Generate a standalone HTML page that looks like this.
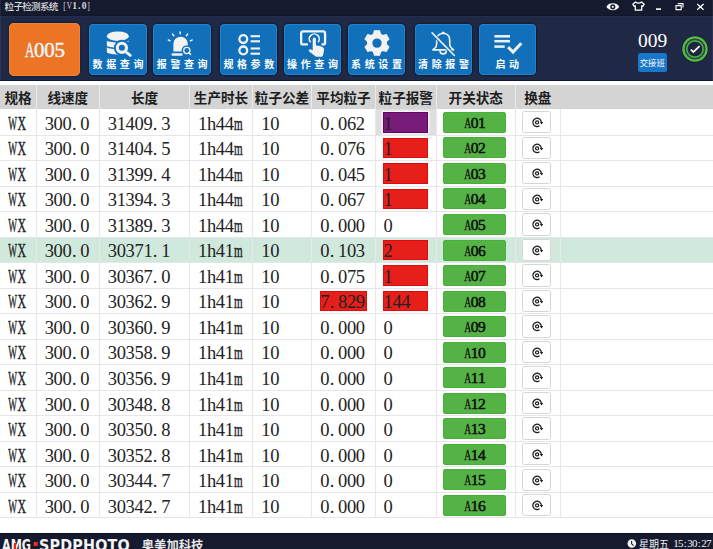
<!DOCTYPE html><html><head><meta charset="utf-8"><title>粒子检测系统</title><style>
*{margin:0;padding:0;box-sizing:border-box}
html,body{width:713px;height:549px;overflow:hidden;background:#fff}
body{position:relative;font-family:"Liberation Serif","Noto Serif CJK SC",serif;color:#1a1a1a}
.abs{position:absolute}
#title{left:0;top:0;width:713px;height:16px;background:#161a2f;border-bottom:1px solid #12162a}
#ttl{left:4.6px;top:-0.1px;font:500 9.6px/13px "Noto Sans CJK SC",sans-serif;color:#dcdcdc;white-space:nowrap;letter-spacing:-.75px}
#ttl span{font:bold 9.5px/13px "Liberation Serif",serif;letter-spacing:0;margin-left:3.6px;position:relative;top:-1px}
#ttl span i{display:inline-flex;justify-content:center;width:4.75px;font-style:normal}
#tool{left:0;top:16px;width:713px;height:65px;background:#1f2946;border-top:1px solid #232d4b;border-bottom:1px solid #0e1733}
#a005{left:8.9px;top:22.9px;width:71px;height:52.7px;background:#ec7424;border-radius:5px;box-shadow:0 0 0 1.4px #0a2550,inset 0 0 0 1px #f88020;color:#e8f6fa;font:21px/54.5px "Liberation Serif",serif;text-align:center;-webkit-text-stroke:.45px #e8f6fa}
#a005 i{display:inline-flex;justify-content:center;width:10.2px;font-style:normal}
.btn{top:23.6px;width:57.5px;height:51px;background:#1170b9;border-radius:4.5px;box-shadow:0 0 0 1.3px #1b1b2e,inset 0 0 0 1px #1a84d6}
.btn svg{position:absolute;left:0;top:0}
.bl{position:absolute;left:0;top:34px;width:57px;text-align:center;font:bold 10px/12px "Noto Sans CJK SC",sans-serif;color:#fff;letter-spacing:3.6px;text-indent:3.6px;white-space:nowrap}
#n009{left:636px;top:29.5px;width:33px;text-align:center;color:#fff;font:19.5px/22px "Liberation Serif",serif}
#jjb{left:637.5px;top:53px;width:29.5px;height:19px;background:#1a76c8;border-radius:2.5px;color:#fff;font:8.4px/19px "Noto Sans CJK SC",sans-serif;text-align:center;letter-spacing:-.1px}
#hdr{left:0;top:85px;width:713px;height:24px;background:#d4d4d4}
.hs{position:absolute;top:85px;width:1px;height:24px;background:#ebebeb}
.ht{position:absolute;top:85px;height:24px;font:bold 13.6px/24px "Noto Sans CJK SC",sans-serif;color:#1e1e1e;text-align:center;white-space:nowrap}
.rl{position:absolute;left:0;width:713px;height:1px;background:#e6e6ea}
.cs{position:absolute;width:1px;background:#e8e8e8}
.tx{position:absolute;font-size:18.5px;line-height:20px;white-space:nowrap;color:#222}
.tx i{display:inline-flex;justify-content:center;width:8.9px;font-style:normal}
i b{display:inline-block;font-weight:normal}
.tx i.d{justify-content:flex-start;padding-left:.4px}
.tx i b{-webkit-text-stroke:.4px #222}
.al{position:absolute;left:382.6px;width:45px;height:20.4px;border:1px solid #e00c0c;background:#e61f1a;font-size:17.5px;line-height:19px;padding-left:2px}
.al.p{background:#771d79;border-color:#660066;box-shadow:0 0 0 1.5px #f4f4f4}
.sw{position:absolute;left:443.4px;width:62.4px;height:21px;background:#55b345;border:1px solid #47b03b;border-radius:2px;text-align:center;line-height:19px;color:#111}
.sw .tx i{width:7.3px}
.hp{position:absolute;left:522.3px;width:29px;height:22.3px;border:1px solid #d6d6d6;border-radius:2.5px;background:#fff}
#tm i{display:inline-flex;justify-content:center;width:4.7px;font-style:normal}
#foot{left:0;top:533.4px;width:713px;height:16px;background:#161a2e;border-top:1px solid #0b0d1a}
</style></head><body>
<div id="title" class="abs"></div>
<div id="ttl" class="abs">粒子检测系统 <span><i><b style="transform:scaleX(0.8)">[</b></i><i><b style="transform:scaleX(0.75)">V</b></i><i>1</i><i class="d">.</i><i>0</i><i><b style="transform:scaleX(0.8)">]</b></i></span></div>
<svg class="abs" style="left:600px;top:0" width="113" height="15" viewBox="0 0 113 15">
<path d="M6.4 6.8 C8.6 2.2 17 2.2 19.2 6.8 C17 11.4 8.6 11.4 6.4 6.8Z" fill="#fff"/>
<circle cx="12.8" cy="6.8" r="2.6" fill="#151a2f"/><circle cx="12.8" cy="6.8" r="1.1" fill="#fff"/>
<path d="M35.5 2 L32.8 4.2 L34.2 6.4 L35.3 5.8 L35.3 10.2 L41.7 10.2 L41.7 5.8 L42.8 6.4 L44.2 4.2 L41.5 2 Q38.5 4.2 35.5 2Z" fill="none" stroke="#fff" stroke-width="1.3" stroke-linejoin="round"/>
<rect x="56" y="8.3" width="5" height="1.6" fill="#fff"/>
<path d="M77.8 3.6 H83 V7.6 M76 5.6 H81.2 V9.6 H76Z" fill="none" stroke="#fff" stroke-width="1.1"/>
<path d="M97.2 4 L103.6 9.8 M103.6 4 L97.2 9.8" stroke="#fff" stroke-width="1.3"/>
</svg>
<div id="tool" class="abs"></div>
<div class="abs" style="left:0;top:0;width:1px;height:81px;background:rgba(255,255,255,.06)"></div><div class="abs" style="left:711.5px;top:0;width:1.5px;height:81px;background:rgba(255,255,255,.05)"></div>
<div id="a005" class="abs"><i><b style="transform:scaleX(0.62)">A</b></i><i>0</i><i>0</i><i>5</i></div>
<div class="abs btn" style="left:89px"><svg width="57" height="51" viewBox="0 0 57 51"><ellipse cx="28.85" cy="12.2" rx="11" ry="4.8" fill="#f2f2f2"/>
<path d="M17.85 16.6 A11 1.8 0 0 0 39.85 16.6 L39.85 21.8 A11 1.8 0 0 1 17.85 21.8Z" fill="#f2f2f2"/>
<path d="M17.85 23.2 A11 1.8 0 0 0 39.85 23.2 L39.85 28 A11 2.6 0 0 1 17.85 28Z" fill="#f2f2f2"/>
<circle cx="32.9" cy="23.8" r="8" fill="#1170b9"/><rect x="35" y="17.6" width="6" height="7" fill="#1170b9"/>
<circle cx="32.9" cy="23.8" r="4.6" fill="none" stroke="#f2f2f2" stroke-width="3.1"/>
<path d="M37.4 28.4 L41.3 31.3" stroke="#f2f2f2" stroke-width="2.8" stroke-linecap="round"/></svg><div class="bl">数据查询</div></div>
<div class="abs btn" style="left:153.2px"><svg width="57" height="51" viewBox="0 0 57 51"><path d="M20.4 27.4 V19.9 A7.2 7.2 0 0 1 34.8 19.9 V27.4Z" fill="#f2f2f2"/>
<circle cx="33.8" cy="26.5" r="5.2" fill="#1170b9"/>
<rect x="18.5" y="29.3" width="11.2" height="2.4" rx="1.2" fill="#f2f2f2"/>
<circle cx="33.8" cy="26.5" r="3.1" fill="none" stroke="#f2f2f2" stroke-width="1.3"/>
<path d="M35.9 28.7 L37.6 30.4" stroke="#f2f2f2" stroke-width="1.4" stroke-linecap="round"/>
<g stroke="#f2f2f2" stroke-width="1.5" stroke-linecap="round"><path d="M27.2 7.9 V9.8"/><path d="M19.6 10.1 L20.8 11.7"/><path d="M34.6 10.1 L33.4 11.7"/><path d="M15.3 16 L17 16.7"/><path d="M39.1 16.1 L37.4 16.8"/></g></svg><div class="bl">报警查询</div></div>
<div class="abs btn" style="left:219.8px"><svg width="57" height="51" viewBox="0 0 57 51"><circle cx="23.3" cy="15.1" r="3.9" fill="none" stroke="#f2f2f2" stroke-width="2.3"/>
<circle cx="23.3" cy="26.4" r="3.9" fill="none" stroke="#f2f2f2" stroke-width="2.3"/>
<g stroke="#f2f2f2" stroke-width="2.1"><path d="M30.6 12.2 H40"/><path d="M30.6 17.3 H40"/><path d="M30.6 24.5 H40"/><path d="M30.6 29.7 H40"/></g></svg><div class="bl">规格参数</div></div>
<div class="abs btn" style="left:283.5px"><svg width="57" height="51" viewBox="0 0 57 51"><path d="M23.9 20.45 H19.2 Q17.15 20.45 17.15 18.4 V9.4 Q17.15 7.35 19.2 7.35 H39 Q41.05 7.35 41.05 9.4 V18.4 Q41.05 20.45 39 20.45 H37.5" fill="none" stroke="#f2f2f2" stroke-width="2.3"/>
<path d="M26.6 18.3 A5 5 0 1 1 34 18.3" fill="none" stroke="#f2f2f2" stroke-width="1.6"/>
<path d="M28.7 15.2 A1.6 1.6 0 0 1 31.9 15.2 L31.9 21.6 Q36 21.5 38.9 23.2 Q40.3 24.2 40 26.5 L39 31.4 Q38.6 32.7 37.3 32.7 L32.5 32.7 Q31.6 32.7 31 32.1 L25.2 27.5 Q24.2 26.5 25 25.7 Q26 24.8 27.3 25.6 L28.7 26.6 Z" fill="#f2f2f2"/></svg><div class="bl">操作查询</div></div>
<div class="abs btn" style="left:347.5px"><svg width="57" height="51" viewBox="0 0 57 51"><path d="M25.54 10.26 L26.48 6.76 L31.52 6.76 L32.46 10.26 L34.84 11.63 L38.34 10.70 L40.86 15.06 L38.30 17.63 L38.30 20.37 L40.86 22.94 L38.34 27.30 L34.84 26.37 L32.46 27.74 L31.52 31.24 L26.48 31.24 L25.54 27.74 L23.16 26.37 L19.66 27.30 L17.14 22.94 L19.70 20.37 L19.70 17.63 L17.14 15.06 L19.66 10.70 L23.16 11.63Z" fill="#f2f2f2" stroke="#f2f2f2" stroke-width="1.2" stroke-linejoin="round"/><circle cx="29" cy="19.1" r="4.7" fill="#1170b9"/></svg><div class="bl">系统设置</div></div>
<div class="abs btn" style="left:414.5px"><svg width="57" height="51" viewBox="0 0 57 51"><path d="M26.8 9.4 Q28.2 6.6 29.6 9.4" fill="#f2f2f2" stroke="#f2f2f2" stroke-width="1.2"/>
<path d="M17.9 25.9 Q18.3 24.9 19.8 24.1 Q21.7 22.9 21.7 19.5 V16.2 Q21.7 9.7 28.2 9.3 Q34.7 9.7 34.7 16.2 V19.5 Q34.7 22.9 36.6 24.1 Q38.1 24.9 38.5 25.9 Z" fill="none" stroke="#f2f2f2" stroke-width="1.6" stroke-linejoin="round"/>
<path d="M25 26.7 A3.2 3.2 0 0 0 31.4 26.7" fill="none" stroke="#f2f2f2" stroke-width="1.6"/>
<path d="M17.1 8.9 L39.4 31.5" stroke="#1170b9" stroke-width="3.6"/>
<path d="M17.1 8.9 L39.4 31.5" stroke="#f2f2f2" stroke-width="1.6" stroke-linecap="round"/></svg><div class="bl">清除报警</div></div>
<div class="abs btn" style="left:478.8px"><svg width="57" height="51" viewBox="0 0 57 51"><g stroke="#f2f2f2" stroke-width="2.5"><path d="M15.4 12.3 H31"/><path d="M15.4 17.2 H31"/><path d="M15.4 22.6 H25.7"/></g>
<path d="M29.1 23.1 L34 28 L42.3 19.2" fill="none" stroke="#f2f2f2" stroke-width="3"/></svg><div class="bl">启动</div></div>
<div id="n009" class="abs">009</div>
<div id="jjb" class="abs">交接班</div>
<svg class="abs" style="left:680px;top:34px" width="30" height="30" viewBox="0 0 30 30">
<circle cx="15" cy="15" r="13.2" fill="none" stroke="#1a1a2e" stroke-width="1"/>
<circle cx="15" cy="15" r="11.6" fill="#383a55" stroke="#4ec23c" stroke-width="2.2"/>
<circle cx="15" cy="15" r="8.2" fill="#1e2542" stroke="#46aa3c" stroke-width="1.7"/>
<path d="M10.8 15.7 L13.4 18 L19.6 12.2" fill="none" stroke="#f6f6f6" stroke-width="1.8"/>
</svg>
<div id="hdr" class="abs"></div>
<div class="ht" style="left:0px;width:36px">规格</div>
<div class="ht" style="left:36px;width:63.599999999999994px">线速度</div>
<div class="ht" style="left:99.6px;width:89.9px">长度</div>
<div class="ht" style="left:189.5px;width:63.0px">生产时长</div>
<div class="ht" style="left:252.5px;width:59.0px">粒子公差</div>
<div class="ht" style="left:311.5px;width:64.0px">平均粒子</div>
<div class="ht" style="left:375.5px;width:60.5px">粒子报警</div>
<div class="ht" style="left:436px;width:79.5px">开关状态</div>
<div class="ht" style="left:515.5px;width:44.5px">换盘</div>
<div class="hs" style="left:35.5px"></div>
<div class="hs" style="left:99.1px"></div>
<div class="hs" style="left:189.0px"></div>
<div class="hs" style="left:252.0px"></div>
<div class="hs" style="left:311.0px"></div>
<div class="hs" style="left:375.0px"></div>
<div class="hs" style="left:435.5px"></div>
<div class="hs" style="left:515.0px"></div>
<div class="abs" style="left:375.5px;top:109.00px;width:60px;height:25.53px;background:#dedede"></div>
<div class="abs" style="left:0;top:236.65px;width:713px;height:25.53px;background:#d0e9dc"></div>
<div class="rl" style="top:134.53px"></div>
<div class="rl" style="top:160.06px"></div>
<div class="rl" style="top:185.59px"></div>
<div class="rl" style="top:211.12px"></div>
<div class="rl" style="top:236.65px"></div>
<div class="rl" style="top:262.18px"></div>
<div class="rl" style="top:287.71px"></div>
<div class="rl" style="top:313.24px"></div>
<div class="rl" style="top:338.77px"></div>
<div class="rl" style="top:364.30px"></div>
<div class="rl" style="top:389.83px"></div>
<div class="rl" style="top:415.36px"></div>
<div class="rl" style="top:440.89px"></div>
<div class="rl" style="top:466.42px"></div>
<div class="rl" style="top:491.95px"></div>
<div class="rl" style="top:517.48px"></div>
<div class="cs" style="left:35.5px;top:109px;height:408.48px"></div>
<div class="cs" style="left:99.1px;top:109px;height:408.48px"></div>
<div class="cs" style="left:189.0px;top:109px;height:408.48px"></div>
<div class="cs" style="left:252.0px;top:109px;height:408.48px"></div>
<div class="cs" style="left:311.0px;top:109px;height:408.48px"></div>
<div class="cs" style="left:375.0px;top:109px;height:408.48px"></div>
<div class="cs" style="left:435.5px;top:109px;height:408.48px"></div>
<div class="cs" style="left:515.0px;top:109px;height:408.48px"></div>
<div class="cs" style="left:559.5px;top:109px;height:408.48px"></div>
<div class="tx" style="left:7.95px;top:113.70px"><i><b style="transform:scaleX(0.5)">W</b></i><i><b style="transform:scaleX(0.64)">X</b></i></div>
<div class="tx" style="left:44.9px;top:113.70px"><i>3</i><i>0</i><i>0</i><i class="d">.</i><i>0</i></div>
<div class="tx" style="left:108px;top:113.70px"><i>3</i><i>1</i><i>4</i><i>0</i><i>9</i><i class="d">.</i><i>3</i></div>
<div class="tx" style="left:198.2px;top:113.70px"><i>1</i><i>h</i><i>4</i><i>4</i><i><b style="transform:scaleX(0.6)">m</b></i></div>
<div class="tx" style="left:261.5px;top:113.70px"><i>1</i><i>0</i></div>
<div class="tx" style="left:320.4px;top:113.70px"><i>0</i><i class="d">.</i><i>0</i><i>6</i><i>2</i></div>
<div class="al p" style="top:112.20px"></div>
<div class="tx" style="left:383.75px;top:113.70px"><i>1</i></div>
<div class="sw" style="top:111.90px"><span class="tx" style="position:static;font-size:15.5px;line-height:19px;color:#0a0a0a;-webkit-text-stroke:.5px #0a0a0a"><i><b style="transform:scaleX(0.62)">A</b></i><i>0</i><i>1</i></span></div>
<div class="hp" style="top:111.10px"><svg width="27" height="20" viewBox="0 0 27 20" style="position:absolute;left:0;top:0"><path d="M18.28 10.03 A4.2 4.2 0 1 0 16.51 13.84" fill="none" stroke="#1a1a1a" stroke-width="1.25"/><circle cx="14.1" cy="10.4" r="1.55" fill="none" stroke="#1a1a1a" stroke-width="1.2"/><path d="M16.9 9.9 L20.2 9.9 L18.55 12.5Z" fill="#1a1a1a"/></svg></div>
<div class="tx" style="left:7.95px;top:139.23px"><i><b style="transform:scaleX(0.5)">W</b></i><i><b style="transform:scaleX(0.64)">X</b></i></div>
<div class="tx" style="left:44.9px;top:139.23px"><i>3</i><i>0</i><i>0</i><i class="d">.</i><i>0</i></div>
<div class="tx" style="left:108px;top:139.23px"><i>3</i><i>1</i><i>4</i><i>0</i><i>4</i><i class="d">.</i><i>5</i></div>
<div class="tx" style="left:198.2px;top:139.23px"><i>1</i><i>h</i><i>4</i><i>4</i><i><b style="transform:scaleX(0.6)">m</b></i></div>
<div class="tx" style="left:261.5px;top:139.23px"><i>1</i><i>0</i></div>
<div class="tx" style="left:320.4px;top:139.23px"><i>0</i><i class="d">.</i><i>0</i><i>7</i><i>6</i></div>
<div class="al" style="top:137.73px"></div>
<div class="tx" style="left:383.75px;top:139.23px"><i>1</i></div>
<div class="sw" style="top:137.43px"><span class="tx" style="position:static;font-size:15.5px;line-height:19px;color:#0a0a0a;-webkit-text-stroke:.5px #0a0a0a"><i><b style="transform:scaleX(0.62)">A</b></i><i>0</i><i>2</i></span></div>
<div class="hp" style="top:136.63px"><svg width="27" height="20" viewBox="0 0 27 20" style="position:absolute;left:0;top:0"><path d="M18.28 10.03 A4.2 4.2 0 1 0 16.51 13.84" fill="none" stroke="#1a1a1a" stroke-width="1.25"/><circle cx="14.1" cy="10.4" r="1.55" fill="none" stroke="#1a1a1a" stroke-width="1.2"/><path d="M16.9 9.9 L20.2 9.9 L18.55 12.5Z" fill="#1a1a1a"/></svg></div>
<div class="tx" style="left:7.95px;top:164.76px"><i><b style="transform:scaleX(0.5)">W</b></i><i><b style="transform:scaleX(0.64)">X</b></i></div>
<div class="tx" style="left:44.9px;top:164.76px"><i>3</i><i>0</i><i>0</i><i class="d">.</i><i>0</i></div>
<div class="tx" style="left:108px;top:164.76px"><i>3</i><i>1</i><i>3</i><i>9</i><i>9</i><i class="d">.</i><i>4</i></div>
<div class="tx" style="left:198.2px;top:164.76px"><i>1</i><i>h</i><i>4</i><i>4</i><i><b style="transform:scaleX(0.6)">m</b></i></div>
<div class="tx" style="left:261.5px;top:164.76px"><i>1</i><i>0</i></div>
<div class="tx" style="left:320.4px;top:164.76px"><i>0</i><i class="d">.</i><i>0</i><i>4</i><i>5</i></div>
<div class="al" style="top:163.26px"></div>
<div class="tx" style="left:383.75px;top:164.76px"><i>1</i></div>
<div class="sw" style="top:162.96px"><span class="tx" style="position:static;font-size:15.5px;line-height:19px;color:#0a0a0a;-webkit-text-stroke:.5px #0a0a0a"><i><b style="transform:scaleX(0.62)">A</b></i><i>0</i><i>3</i></span></div>
<div class="hp" style="top:162.16px"><svg width="27" height="20" viewBox="0 0 27 20" style="position:absolute;left:0;top:0"><path d="M18.28 10.03 A4.2 4.2 0 1 0 16.51 13.84" fill="none" stroke="#1a1a1a" stroke-width="1.25"/><circle cx="14.1" cy="10.4" r="1.55" fill="none" stroke="#1a1a1a" stroke-width="1.2"/><path d="M16.9 9.9 L20.2 9.9 L18.55 12.5Z" fill="#1a1a1a"/></svg></div>
<div class="tx" style="left:7.95px;top:190.29px"><i><b style="transform:scaleX(0.5)">W</b></i><i><b style="transform:scaleX(0.64)">X</b></i></div>
<div class="tx" style="left:44.9px;top:190.29px"><i>3</i><i>0</i><i>0</i><i class="d">.</i><i>0</i></div>
<div class="tx" style="left:108px;top:190.29px"><i>3</i><i>1</i><i>3</i><i>9</i><i>4</i><i class="d">.</i><i>3</i></div>
<div class="tx" style="left:198.2px;top:190.29px"><i>1</i><i>h</i><i>4</i><i>4</i><i><b style="transform:scaleX(0.6)">m</b></i></div>
<div class="tx" style="left:261.5px;top:190.29px"><i>1</i><i>0</i></div>
<div class="tx" style="left:320.4px;top:190.29px"><i>0</i><i class="d">.</i><i>0</i><i>6</i><i>7</i></div>
<div class="al" style="top:188.79px"></div>
<div class="tx" style="left:383.75px;top:190.29px"><i>1</i></div>
<div class="sw" style="top:188.49px"><span class="tx" style="position:static;font-size:15.5px;line-height:19px;color:#0a0a0a;-webkit-text-stroke:.5px #0a0a0a"><i><b style="transform:scaleX(0.62)">A</b></i><i>0</i><i>4</i></span></div>
<div class="hp" style="top:187.69px"><svg width="27" height="20" viewBox="0 0 27 20" style="position:absolute;left:0;top:0"><path d="M18.28 10.03 A4.2 4.2 0 1 0 16.51 13.84" fill="none" stroke="#1a1a1a" stroke-width="1.25"/><circle cx="14.1" cy="10.4" r="1.55" fill="none" stroke="#1a1a1a" stroke-width="1.2"/><path d="M16.9 9.9 L20.2 9.9 L18.55 12.5Z" fill="#1a1a1a"/></svg></div>
<div class="tx" style="left:7.95px;top:215.82px"><i><b style="transform:scaleX(0.5)">W</b></i><i><b style="transform:scaleX(0.64)">X</b></i></div>
<div class="tx" style="left:44.9px;top:215.82px"><i>3</i><i>0</i><i>0</i><i class="d">.</i><i>0</i></div>
<div class="tx" style="left:108px;top:215.82px"><i>3</i><i>1</i><i>3</i><i>8</i><i>9</i><i class="d">.</i><i>3</i></div>
<div class="tx" style="left:198.2px;top:215.82px"><i>1</i><i>h</i><i>4</i><i>4</i><i><b style="transform:scaleX(0.6)">m</b></i></div>
<div class="tx" style="left:261.5px;top:215.82px"><i>1</i><i>0</i></div>
<div class="tx" style="left:320.4px;top:215.82px"><i>0</i><i class="d">.</i><i>0</i><i>0</i><i>0</i></div>
<div class="tx" style="left:383.75px;top:215.82px"><i>0</i></div>
<div class="sw" style="top:214.02px"><span class="tx" style="position:static;font-size:15.5px;line-height:19px;color:#0a0a0a;-webkit-text-stroke:.5px #0a0a0a"><i><b style="transform:scaleX(0.62)">A</b></i><i>0</i><i>5</i></span></div>
<div class="hp" style="top:213.22px"><svg width="27" height="20" viewBox="0 0 27 20" style="position:absolute;left:0;top:0"><path d="M18.28 10.03 A4.2 4.2 0 1 0 16.51 13.84" fill="none" stroke="#1a1a1a" stroke-width="1.25"/><circle cx="14.1" cy="10.4" r="1.55" fill="none" stroke="#1a1a1a" stroke-width="1.2"/><path d="M16.9 9.9 L20.2 9.9 L18.55 12.5Z" fill="#1a1a1a"/></svg></div>
<div class="tx" style="left:7.95px;top:241.35px"><i><b style="transform:scaleX(0.5)">W</b></i><i><b style="transform:scaleX(0.64)">X</b></i></div>
<div class="tx" style="left:44.9px;top:241.35px"><i>3</i><i>0</i><i>0</i><i class="d">.</i><i>0</i></div>
<div class="tx" style="left:108px;top:241.35px"><i>3</i><i>0</i><i>3</i><i>7</i><i>1</i><i class="d">.</i><i>1</i></div>
<div class="tx" style="left:198.2px;top:241.35px"><i>1</i><i>h</i><i>4</i><i>1</i><i><b style="transform:scaleX(0.6)">m</b></i></div>
<div class="tx" style="left:261.5px;top:241.35px"><i>1</i><i>0</i></div>
<div class="tx" style="left:320.4px;top:241.35px"><i>0</i><i class="d">.</i><i>1</i><i>0</i><i>3</i></div>
<div class="al" style="top:239.85px"></div>
<div class="tx" style="left:383.75px;top:241.35px"><i>2</i></div>
<div class="sw" style="top:239.55px"><span class="tx" style="position:static;font-size:15.5px;line-height:19px;color:#0a0a0a;-webkit-text-stroke:.5px #0a0a0a"><i><b style="transform:scaleX(0.62)">A</b></i><i>0</i><i>6</i></span></div>
<div class="hp" style="top:238.75px"><svg width="27" height="20" viewBox="0 0 27 20" style="position:absolute;left:0;top:0"><path d="M18.28 10.03 A4.2 4.2 0 1 0 16.51 13.84" fill="none" stroke="#1a1a1a" stroke-width="1.25"/><circle cx="14.1" cy="10.4" r="1.55" fill="none" stroke="#1a1a1a" stroke-width="1.2"/><path d="M16.9 9.9 L20.2 9.9 L18.55 12.5Z" fill="#1a1a1a"/></svg></div>
<div class="tx" style="left:7.95px;top:266.88px"><i><b style="transform:scaleX(0.5)">W</b></i><i><b style="transform:scaleX(0.64)">X</b></i></div>
<div class="tx" style="left:44.9px;top:266.88px"><i>3</i><i>0</i><i>0</i><i class="d">.</i><i>0</i></div>
<div class="tx" style="left:108px;top:266.88px"><i>3</i><i>0</i><i>3</i><i>6</i><i>7</i><i class="d">.</i><i>0</i></div>
<div class="tx" style="left:198.2px;top:266.88px"><i>1</i><i>h</i><i>4</i><i>1</i><i><b style="transform:scaleX(0.6)">m</b></i></div>
<div class="tx" style="left:261.5px;top:266.88px"><i>1</i><i>0</i></div>
<div class="tx" style="left:320.4px;top:266.88px"><i>0</i><i class="d">.</i><i>0</i><i>7</i><i>5</i></div>
<div class="al" style="top:265.38px"></div>
<div class="tx" style="left:383.75px;top:266.88px"><i>1</i></div>
<div class="sw" style="top:265.08px"><span class="tx" style="position:static;font-size:15.5px;line-height:19px;color:#0a0a0a;-webkit-text-stroke:.5px #0a0a0a"><i><b style="transform:scaleX(0.62)">A</b></i><i>0</i><i>7</i></span></div>
<div class="hp" style="top:264.28px"><svg width="27" height="20" viewBox="0 0 27 20" style="position:absolute;left:0;top:0"><path d="M18.28 10.03 A4.2 4.2 0 1 0 16.51 13.84" fill="none" stroke="#1a1a1a" stroke-width="1.25"/><circle cx="14.1" cy="10.4" r="1.55" fill="none" stroke="#1a1a1a" stroke-width="1.2"/><path d="M16.9 9.9 L20.2 9.9 L18.55 12.5Z" fill="#1a1a1a"/></svg></div>
<div class="tx" style="left:7.95px;top:292.41px"><i><b style="transform:scaleX(0.5)">W</b></i><i><b style="transform:scaleX(0.64)">X</b></i></div>
<div class="tx" style="left:44.9px;top:292.41px"><i>3</i><i>0</i><i>0</i><i class="d">.</i><i>0</i></div>
<div class="tx" style="left:108px;top:292.41px"><i>3</i><i>0</i><i>3</i><i>6</i><i>2</i><i class="d">.</i><i>9</i></div>
<div class="tx" style="left:198.2px;top:292.41px"><i>1</i><i>h</i><i>4</i><i>1</i><i><b style="transform:scaleX(0.6)">m</b></i></div>
<div class="tx" style="left:261.5px;top:292.41px"><i>1</i><i>0</i></div>
<div class="abs" style="left:319.5px;top:291.11px;width:47px;height:20px;background:#e61f1a;border:1px solid #e00c0c"></div>
<div class="tx" style="left:320.4px;top:292.41px"><i>7</i><i class="d">.</i><i>8</i><i>2</i><i>9</i></div>
<div class="al" style="top:290.91px"></div>
<div class="tx" style="left:383.75px;top:292.41px"><i>1</i><i>4</i><i>4</i></div>
<div class="sw" style="top:290.61px"><span class="tx" style="position:static;font-size:15.5px;line-height:19px;color:#0a0a0a;-webkit-text-stroke:.5px #0a0a0a"><i><b style="transform:scaleX(0.62)">A</b></i><i>0</i><i>8</i></span></div>
<div class="hp" style="top:289.81px"><svg width="27" height="20" viewBox="0 0 27 20" style="position:absolute;left:0;top:0"><path d="M18.28 10.03 A4.2 4.2 0 1 0 16.51 13.84" fill="none" stroke="#1a1a1a" stroke-width="1.25"/><circle cx="14.1" cy="10.4" r="1.55" fill="none" stroke="#1a1a1a" stroke-width="1.2"/><path d="M16.9 9.9 L20.2 9.9 L18.55 12.5Z" fill="#1a1a1a"/></svg></div>
<div class="tx" style="left:7.95px;top:317.94px"><i><b style="transform:scaleX(0.5)">W</b></i><i><b style="transform:scaleX(0.64)">X</b></i></div>
<div class="tx" style="left:44.9px;top:317.94px"><i>3</i><i>0</i><i>0</i><i class="d">.</i><i>0</i></div>
<div class="tx" style="left:108px;top:317.94px"><i>3</i><i>0</i><i>3</i><i>6</i><i>0</i><i class="d">.</i><i>9</i></div>
<div class="tx" style="left:198.2px;top:317.94px"><i>1</i><i>h</i><i>4</i><i>1</i><i><b style="transform:scaleX(0.6)">m</b></i></div>
<div class="tx" style="left:261.5px;top:317.94px"><i>1</i><i>0</i></div>
<div class="tx" style="left:320.4px;top:317.94px"><i>0</i><i class="d">.</i><i>0</i><i>0</i><i>0</i></div>
<div class="tx" style="left:383.75px;top:317.94px"><i>0</i></div>
<div class="sw" style="top:316.14px"><span class="tx" style="position:static;font-size:15.5px;line-height:19px;color:#0a0a0a;-webkit-text-stroke:.5px #0a0a0a"><i><b style="transform:scaleX(0.62)">A</b></i><i>0</i><i>9</i></span></div>
<div class="hp" style="top:315.34px"><svg width="27" height="20" viewBox="0 0 27 20" style="position:absolute;left:0;top:0"><path d="M18.28 10.03 A4.2 4.2 0 1 0 16.51 13.84" fill="none" stroke="#1a1a1a" stroke-width="1.25"/><circle cx="14.1" cy="10.4" r="1.55" fill="none" stroke="#1a1a1a" stroke-width="1.2"/><path d="M16.9 9.9 L20.2 9.9 L18.55 12.5Z" fill="#1a1a1a"/></svg></div>
<div class="tx" style="left:7.95px;top:343.47px"><i><b style="transform:scaleX(0.5)">W</b></i><i><b style="transform:scaleX(0.64)">X</b></i></div>
<div class="tx" style="left:44.9px;top:343.47px"><i>3</i><i>0</i><i>0</i><i class="d">.</i><i>0</i></div>
<div class="tx" style="left:108px;top:343.47px"><i>3</i><i>0</i><i>3</i><i>5</i><i>8</i><i class="d">.</i><i>9</i></div>
<div class="tx" style="left:198.2px;top:343.47px"><i>1</i><i>h</i><i>4</i><i>1</i><i><b style="transform:scaleX(0.6)">m</b></i></div>
<div class="tx" style="left:261.5px;top:343.47px"><i>1</i><i>0</i></div>
<div class="tx" style="left:320.4px;top:343.47px"><i>0</i><i class="d">.</i><i>0</i><i>0</i><i>0</i></div>
<div class="tx" style="left:383.75px;top:343.47px"><i>0</i></div>
<div class="sw" style="top:341.67px"><span class="tx" style="position:static;font-size:15.5px;line-height:19px;color:#0a0a0a;-webkit-text-stroke:.5px #0a0a0a"><i><b style="transform:scaleX(0.62)">A</b></i><i>1</i><i>0</i></span></div>
<div class="hp" style="top:340.87px"><svg width="27" height="20" viewBox="0 0 27 20" style="position:absolute;left:0;top:0"><path d="M18.28 10.03 A4.2 4.2 0 1 0 16.51 13.84" fill="none" stroke="#1a1a1a" stroke-width="1.25"/><circle cx="14.1" cy="10.4" r="1.55" fill="none" stroke="#1a1a1a" stroke-width="1.2"/><path d="M16.9 9.9 L20.2 9.9 L18.55 12.5Z" fill="#1a1a1a"/></svg></div>
<div class="tx" style="left:7.95px;top:369.00px"><i><b style="transform:scaleX(0.5)">W</b></i><i><b style="transform:scaleX(0.64)">X</b></i></div>
<div class="tx" style="left:44.9px;top:369.00px"><i>3</i><i>0</i><i>0</i><i class="d">.</i><i>0</i></div>
<div class="tx" style="left:108px;top:369.00px"><i>3</i><i>0</i><i>3</i><i>5</i><i>6</i><i class="d">.</i><i>9</i></div>
<div class="tx" style="left:198.2px;top:369.00px"><i>1</i><i>h</i><i>4</i><i>1</i><i><b style="transform:scaleX(0.6)">m</b></i></div>
<div class="tx" style="left:261.5px;top:369.00px"><i>1</i><i>0</i></div>
<div class="tx" style="left:320.4px;top:369.00px"><i>0</i><i class="d">.</i><i>0</i><i>0</i><i>0</i></div>
<div class="tx" style="left:383.75px;top:369.00px"><i>0</i></div>
<div class="sw" style="top:367.20px"><span class="tx" style="position:static;font-size:15.5px;line-height:19px;color:#0a0a0a;-webkit-text-stroke:.5px #0a0a0a"><i><b style="transform:scaleX(0.62)">A</b></i><i>1</i><i>1</i></span></div>
<div class="hp" style="top:366.40px"><svg width="27" height="20" viewBox="0 0 27 20" style="position:absolute;left:0;top:0"><path d="M18.28 10.03 A4.2 4.2 0 1 0 16.51 13.84" fill="none" stroke="#1a1a1a" stroke-width="1.25"/><circle cx="14.1" cy="10.4" r="1.55" fill="none" stroke="#1a1a1a" stroke-width="1.2"/><path d="M16.9 9.9 L20.2 9.9 L18.55 12.5Z" fill="#1a1a1a"/></svg></div>
<div class="tx" style="left:7.95px;top:394.53px"><i><b style="transform:scaleX(0.5)">W</b></i><i><b style="transform:scaleX(0.64)">X</b></i></div>
<div class="tx" style="left:44.9px;top:394.53px"><i>3</i><i>0</i><i>0</i><i class="d">.</i><i>0</i></div>
<div class="tx" style="left:108px;top:394.53px"><i>3</i><i>0</i><i>3</i><i>4</i><i>8</i><i class="d">.</i><i>8</i></div>
<div class="tx" style="left:198.2px;top:394.53px"><i>1</i><i>h</i><i>4</i><i>1</i><i><b style="transform:scaleX(0.6)">m</b></i></div>
<div class="tx" style="left:261.5px;top:394.53px"><i>1</i><i>0</i></div>
<div class="tx" style="left:320.4px;top:394.53px"><i>0</i><i class="d">.</i><i>0</i><i>0</i><i>0</i></div>
<div class="tx" style="left:383.75px;top:394.53px"><i>0</i></div>
<div class="sw" style="top:392.73px"><span class="tx" style="position:static;font-size:15.5px;line-height:19px;color:#0a0a0a;-webkit-text-stroke:.5px #0a0a0a"><i><b style="transform:scaleX(0.62)">A</b></i><i>1</i><i>2</i></span></div>
<div class="hp" style="top:391.93px"><svg width="27" height="20" viewBox="0 0 27 20" style="position:absolute;left:0;top:0"><path d="M18.28 10.03 A4.2 4.2 0 1 0 16.51 13.84" fill="none" stroke="#1a1a1a" stroke-width="1.25"/><circle cx="14.1" cy="10.4" r="1.55" fill="none" stroke="#1a1a1a" stroke-width="1.2"/><path d="M16.9 9.9 L20.2 9.9 L18.55 12.5Z" fill="#1a1a1a"/></svg></div>
<div class="tx" style="left:7.95px;top:420.06px"><i><b style="transform:scaleX(0.5)">W</b></i><i><b style="transform:scaleX(0.64)">X</b></i></div>
<div class="tx" style="left:44.9px;top:420.06px"><i>3</i><i>0</i><i>0</i><i class="d">.</i><i>0</i></div>
<div class="tx" style="left:108px;top:420.06px"><i>3</i><i>0</i><i>3</i><i>5</i><i>0</i><i class="d">.</i><i>8</i></div>
<div class="tx" style="left:198.2px;top:420.06px"><i>1</i><i>h</i><i>4</i><i>1</i><i><b style="transform:scaleX(0.6)">m</b></i></div>
<div class="tx" style="left:261.5px;top:420.06px"><i>1</i><i>0</i></div>
<div class="tx" style="left:320.4px;top:420.06px"><i>0</i><i class="d">.</i><i>0</i><i>0</i><i>0</i></div>
<div class="tx" style="left:383.75px;top:420.06px"><i>0</i></div>
<div class="sw" style="top:418.26px"><span class="tx" style="position:static;font-size:15.5px;line-height:19px;color:#0a0a0a;-webkit-text-stroke:.5px #0a0a0a"><i><b style="transform:scaleX(0.62)">A</b></i><i>1</i><i>3</i></span></div>
<div class="hp" style="top:417.46px"><svg width="27" height="20" viewBox="0 0 27 20" style="position:absolute;left:0;top:0"><path d="M18.28 10.03 A4.2 4.2 0 1 0 16.51 13.84" fill="none" stroke="#1a1a1a" stroke-width="1.25"/><circle cx="14.1" cy="10.4" r="1.55" fill="none" stroke="#1a1a1a" stroke-width="1.2"/><path d="M16.9 9.9 L20.2 9.9 L18.55 12.5Z" fill="#1a1a1a"/></svg></div>
<div class="tx" style="left:7.95px;top:445.59px"><i><b style="transform:scaleX(0.5)">W</b></i><i><b style="transform:scaleX(0.64)">X</b></i></div>
<div class="tx" style="left:44.9px;top:445.59px"><i>3</i><i>0</i><i>0</i><i class="d">.</i><i>0</i></div>
<div class="tx" style="left:108px;top:445.59px"><i>3</i><i>0</i><i>3</i><i>5</i><i>2</i><i class="d">.</i><i>8</i></div>
<div class="tx" style="left:198.2px;top:445.59px"><i>1</i><i>h</i><i>4</i><i>1</i><i><b style="transform:scaleX(0.6)">m</b></i></div>
<div class="tx" style="left:261.5px;top:445.59px"><i>1</i><i>0</i></div>
<div class="tx" style="left:320.4px;top:445.59px"><i>0</i><i class="d">.</i><i>0</i><i>0</i><i>0</i></div>
<div class="tx" style="left:383.75px;top:445.59px"><i>0</i></div>
<div class="sw" style="top:443.79px"><span class="tx" style="position:static;font-size:15.5px;line-height:19px;color:#0a0a0a;-webkit-text-stroke:.5px #0a0a0a"><i><b style="transform:scaleX(0.62)">A</b></i><i>1</i><i>4</i></span></div>
<div class="hp" style="top:442.99px"><svg width="27" height="20" viewBox="0 0 27 20" style="position:absolute;left:0;top:0"><path d="M18.28 10.03 A4.2 4.2 0 1 0 16.51 13.84" fill="none" stroke="#1a1a1a" stroke-width="1.25"/><circle cx="14.1" cy="10.4" r="1.55" fill="none" stroke="#1a1a1a" stroke-width="1.2"/><path d="M16.9 9.9 L20.2 9.9 L18.55 12.5Z" fill="#1a1a1a"/></svg></div>
<div class="tx" style="left:7.95px;top:471.12px"><i><b style="transform:scaleX(0.5)">W</b></i><i><b style="transform:scaleX(0.64)">X</b></i></div>
<div class="tx" style="left:44.9px;top:471.12px"><i>3</i><i>0</i><i>0</i><i class="d">.</i><i>0</i></div>
<div class="tx" style="left:108px;top:471.12px"><i>3</i><i>0</i><i>3</i><i>4</i><i>4</i><i class="d">.</i><i>7</i></div>
<div class="tx" style="left:198.2px;top:471.12px"><i>1</i><i>h</i><i>4</i><i>1</i><i><b style="transform:scaleX(0.6)">m</b></i></div>
<div class="tx" style="left:261.5px;top:471.12px"><i>1</i><i>0</i></div>
<div class="tx" style="left:320.4px;top:471.12px"><i>0</i><i class="d">.</i><i>0</i><i>0</i><i>0</i></div>
<div class="tx" style="left:383.75px;top:471.12px"><i>0</i></div>
<div class="sw" style="top:469.32px"><span class="tx" style="position:static;font-size:15.5px;line-height:19px;color:#0a0a0a;-webkit-text-stroke:.5px #0a0a0a"><i><b style="transform:scaleX(0.62)">A</b></i><i>1</i><i>5</i></span></div>
<div class="hp" style="top:468.52px"><svg width="27" height="20" viewBox="0 0 27 20" style="position:absolute;left:0;top:0"><path d="M18.28 10.03 A4.2 4.2 0 1 0 16.51 13.84" fill="none" stroke="#1a1a1a" stroke-width="1.25"/><circle cx="14.1" cy="10.4" r="1.55" fill="none" stroke="#1a1a1a" stroke-width="1.2"/><path d="M16.9 9.9 L20.2 9.9 L18.55 12.5Z" fill="#1a1a1a"/></svg></div>
<div class="tx" style="left:7.95px;top:496.65px"><i><b style="transform:scaleX(0.5)">W</b></i><i><b style="transform:scaleX(0.64)">X</b></i></div>
<div class="tx" style="left:44.9px;top:496.65px"><i>3</i><i>0</i><i>0</i><i class="d">.</i><i>0</i></div>
<div class="tx" style="left:108px;top:496.65px"><i>3</i><i>0</i><i>3</i><i>4</i><i>2</i><i class="d">.</i><i>7</i></div>
<div class="tx" style="left:198.2px;top:496.65px"><i>1</i><i>h</i><i>4</i><i>1</i><i><b style="transform:scaleX(0.6)">m</b></i></div>
<div class="tx" style="left:261.5px;top:496.65px"><i>1</i><i>0</i></div>
<div class="tx" style="left:320.4px;top:496.65px"><i>0</i><i class="d">.</i><i>0</i><i>0</i><i>0</i></div>
<div class="tx" style="left:383.75px;top:496.65px"><i>0</i></div>
<div class="sw" style="top:494.85px"><span class="tx" style="position:static;font-size:15.5px;line-height:19px;color:#0a0a0a;-webkit-text-stroke:.5px #0a0a0a"><i><b style="transform:scaleX(0.62)">A</b></i><i>1</i><i>6</i></span></div>
<div class="hp" style="top:494.05px"><svg width="27" height="20" viewBox="0 0 27 20" style="position:absolute;left:0;top:0"><path d="M18.28 10.03 A4.2 4.2 0 1 0 16.51 13.84" fill="none" stroke="#1a1a1a" stroke-width="1.25"/><circle cx="14.1" cy="10.4" r="1.55" fill="none" stroke="#1a1a1a" stroke-width="1.2"/><path d="M16.9 9.9 L20.2 9.9 L18.55 12.5Z" fill="#1a1a1a"/></svg></div>
<div id="foot" class="abs"></div>
<div class="abs" style="left:1.6px;top:537.6px;font:bold 15.5px/16px 'DejaVu Sans',sans-serif;color:#f4f4f4;white-space:nowrap;transform:scaleX(0.72);transform-origin:left">AMG</div><div class="abs" style="left:13.6px;top:542.6px;width:2.2px;height:6.4px;background:#e0281c"></div><div class="abs" style="left:31.2px;top:536px;font:bold 22px/16px 'DejaVu Sans',sans-serif;color:#ec3020;white-space:nowrap">·</div><div class="abs" style="left:38.6px;top:537.6px;font:bold 15.5px/16px 'DejaVu Sans',sans-serif;color:#f4f4f4;white-space:nowrap;transform:scaleX(0.925);transform-origin:left;letter-spacing:.2px">SPDPHOTO</div>
<div class="abs" style="left:141.8px;top:537.6px;font:bold 12.3px/14px 'Noto Sans CJK SC',sans-serif;color:#e8e8e8;white-space:nowrap">奥美加科技</div>
<svg class="abs" style="left:627px;top:539px" width="10" height="10" viewBox="0 0 10 10"><circle cx="4.8" cy="4.5" r="4.3" fill="#f2f2f2"/><path d="M4.6 2 V4.8 L6.6 6.6" fill="none" stroke="#151a2f" stroke-width="1.1"/></svg>
<div class="abs" style="left:639px;top:536.5px;font:10px/13px 'Noto Sans CJK SC',sans-serif;color:#eee;white-space:nowrap">星期五</div>
<div id="tm" class="abs" style="left:673.6px;top:536.6px;font:11px/13px 'Liberation Serif',serif;color:#eee;white-space:nowrap"><i>1</i><i>5</i><i>:</i><i>3</i><i>0</i><i>:</i><i>2</i><i>7</i></div>
</body></html>
